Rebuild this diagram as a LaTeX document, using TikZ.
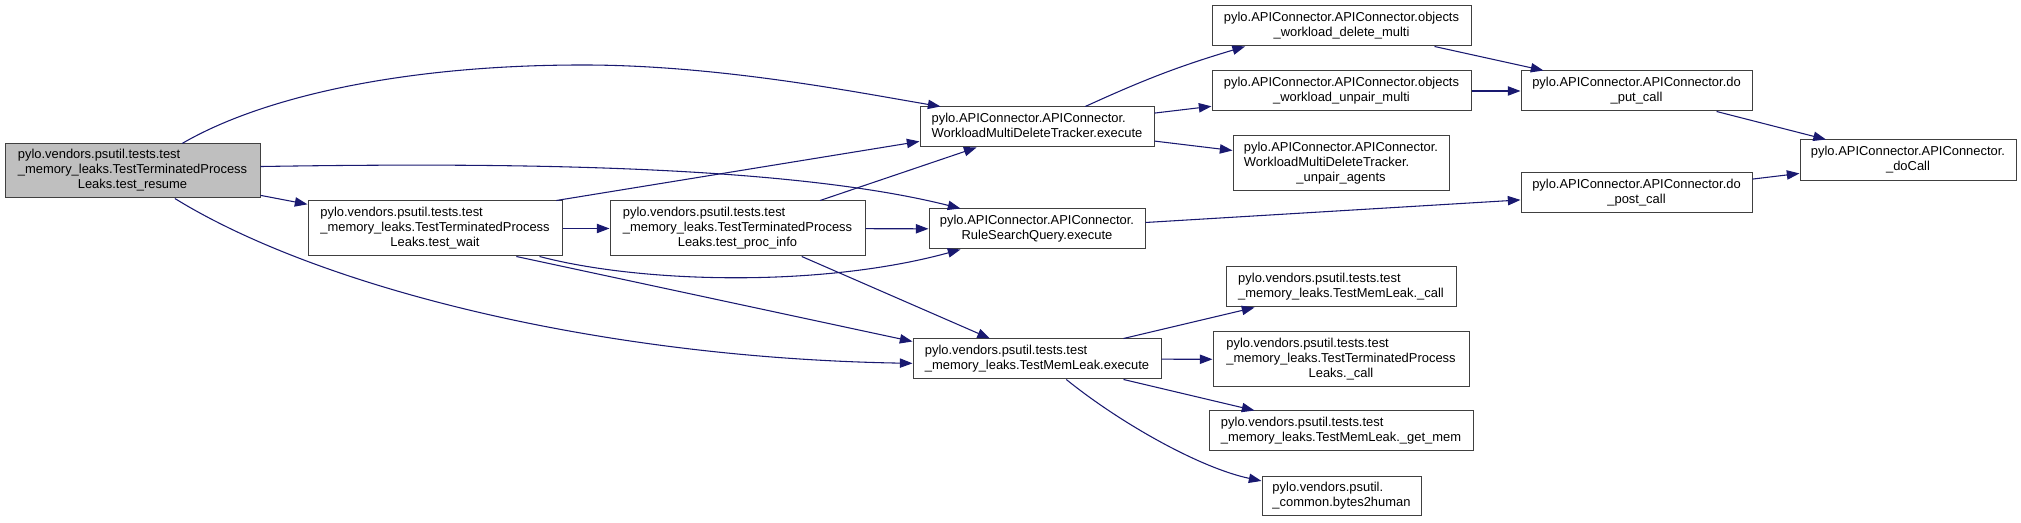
\documentclass[tikz,border=0pt]{standalone}
\usepackage{fontspec}
\setmainfont{Liberation Sans}
\usepackage{tikz}
\usetikzlibrary{arrows.meta}
\definecolor{edgeblue}{RGB}{25, 25, 112}
\definecolor{nodegray}{RGB}{191, 191, 191}
\definecolor{bordergray}{RGB}{64, 64, 64}
\newcommand{\fnlabel}[2]{\begin{tabular}{@{}l@{}}#1\\\multicolumn{1}{@{}c@{}}{#2}\end{tabular}}

\begin{document}
\begin{tikzpicture}[x=0.75pt, y=0.75pt,
    fn/.style={draw=bordergray, line width=0.75pt, fill=white, inner sep=0pt,
        font=\fontsize{9.7}{11.25}\selectfont},
    sz/.style 2 args={minimum width=#1*0.75pt, minimum height=#2*0.75pt},
    call/.style={draw=edgeblue, line width=0.8pt, -{Triangle[length=9.5pt, width=7pt]}}]
    \useasboundingbox (0,0) rectangle (2021,523);
    % callers
    \node[fn, sz={255}{54}, fill=nodegray] (resume) at (132.5,352)
        {\fnlabel{pylo.vendors.psutil.tests.test\\\_memory\_leaks.TestTerminatedProcess}{Leaks.test\_resume}};
    \node[fn, sz={254}{55}] (wait) at (435,294.5)
        {\fnlabel{pylo.vendors.psutil.tests.test\\\_memory\_leaks.TestTerminatedProcess}{Leaks.test\_wait}};
    \node[fn, sz={255}{55}] (procinfo) at (737.5,294.5)
        {\fnlabel{pylo.vendors.psutil.tests.test\\\_memory\_leaks.TestTerminatedProcess}{Leaks.test\_proc\_info}};
    % middle column
    \node[fn, sz={234}{40}] (wmdt) at (1037,396)
        {\fnlabel{pylo.APIConnector.APIConnector.}{WorkloadMultiDeleteTracker.execute}};
    \node[fn, sz={216}{40}] (rsq) at (1037,294)
        {\fnlabel{pylo.APIConnector.APIConnector.}{RuleSearchQuery.execute}};
    \node[fn, sz={248}{40}] (memexec) at (1037,164)
        {\fnlabel{pylo.vendors.psutil.tests.test}{\_memory\_leaks.TestMemLeak.execute}};
    % callees
    \node[fn, sz={259}{40}] (objdel) at (1341.5,497)
        {\fnlabel{pylo.APIConnector.APIConnector.objects}{\_workload\_delete\_multi}};
    \node[fn, sz={259}{40}] (objunp) at (1341.5,432)
        {\fnlabel{pylo.APIConnector.APIConnector.objects}{\_workload\_unpair\_multi}};
    \node[fn, sz={216}{55}] (unpair) at (1341,359.5)
        {\fnlabel{pylo.APIConnector.APIConnector.\\WorkloadMultiDeleteTracker.}{\_unpair\_agents}};
    \node[fn, sz={230}{40}] (memcall) at (1341,236)
        {\fnlabel{pylo.vendors.psutil.tests.test}{\_memory\_leaks.TestMemLeak.\_call}};
    \node[fn, sz={256}{55}] (ttplcall) at (1341,163.5)
        {\fnlabel{pylo.vendors.psutil.tests.test\\\_memory\_leaks.TestTerminatedProcess}{Leaks.\_call}};
    \node[fn, sz={264}{40}] (getmem) at (1341,92)
        {\fnlabel{pylo.vendors.psutil.tests.test}{\_memory\_leaks.TestMemLeak.\_get\_mem}};
    \node[fn, sz={159}{39}] (b2h) at (1341.5,26.5)
        {\fnlabel{pylo.vendors.psutil.}{\_common.bytes2human}};
    \node[fn, sz={231}{40}] (put) at (1636.5,432)
        {\fnlabel{pylo.APIConnector.APIConnector.do}{\_put\_call}};
    \node[fn, sz={231}{40}] (post) at (1636.5,330)
        {\fnlabel{pylo.APIConnector.APIConnector.do}{\_post\_call}};
    \node[fn, sz={216}{41}] (docall) at (1908,362.5)
        {\fnlabel{pylo.APIConnector.APIConnector.}{\_doCall}};
    % calls
    \draw[call] (resume.29) .. controls (260,425) and (400,458) .. (583,458)
        .. controls (720,458) and (860,430) .. (wmdt.168);
    \draw[call] (resume.2) .. controls (480,360) and (780,360) .. (rsq.165);
    \draw[call] (resume) -- (wait);
    \draw[call] (resume.327) .. controls (320,235) and (600,165) .. (memexec.182);
    \draw[call] (wait.13) -- (wmdt.187);
    \draw[call] (wait) -- (procinfo);
    \draw[call] (wait.345) .. controls (640,240) and (820,235) .. (rsq.195);
    \draw[call] (wait.341) -- (memexec.172);
    \draw[call] (procinfo) -- (wmdt);
    \draw[call] (procinfo) -- (rsq);
    \draw[call] (procinfo) -- (memexec);
    \draw[call] (wmdt.23) to[bend left=4] (objdel.192);
    \draw[call] (wmdt) -- (objunp);
    \draw[call] (wmdt) -- (unpair);
    \draw[call] (rsq) -- (post);
    \draw[call] (objdel) -- (put);
    \draw[call] (objunp) -- (put);
    \draw[call] (put) -- (docall);
    \draw[call] (post) -- (docall);
    \draw[call] (memexec) -- (memcall);
    \draw[call] (memexec) -- (ttplcall);
    \draw[call] (memexec) -- (getmem);
    \draw[call] (memexec.325) .. controls (1120,100) and (1200,55) .. (b2h.169);
\end{tikzpicture}
\end{document}
